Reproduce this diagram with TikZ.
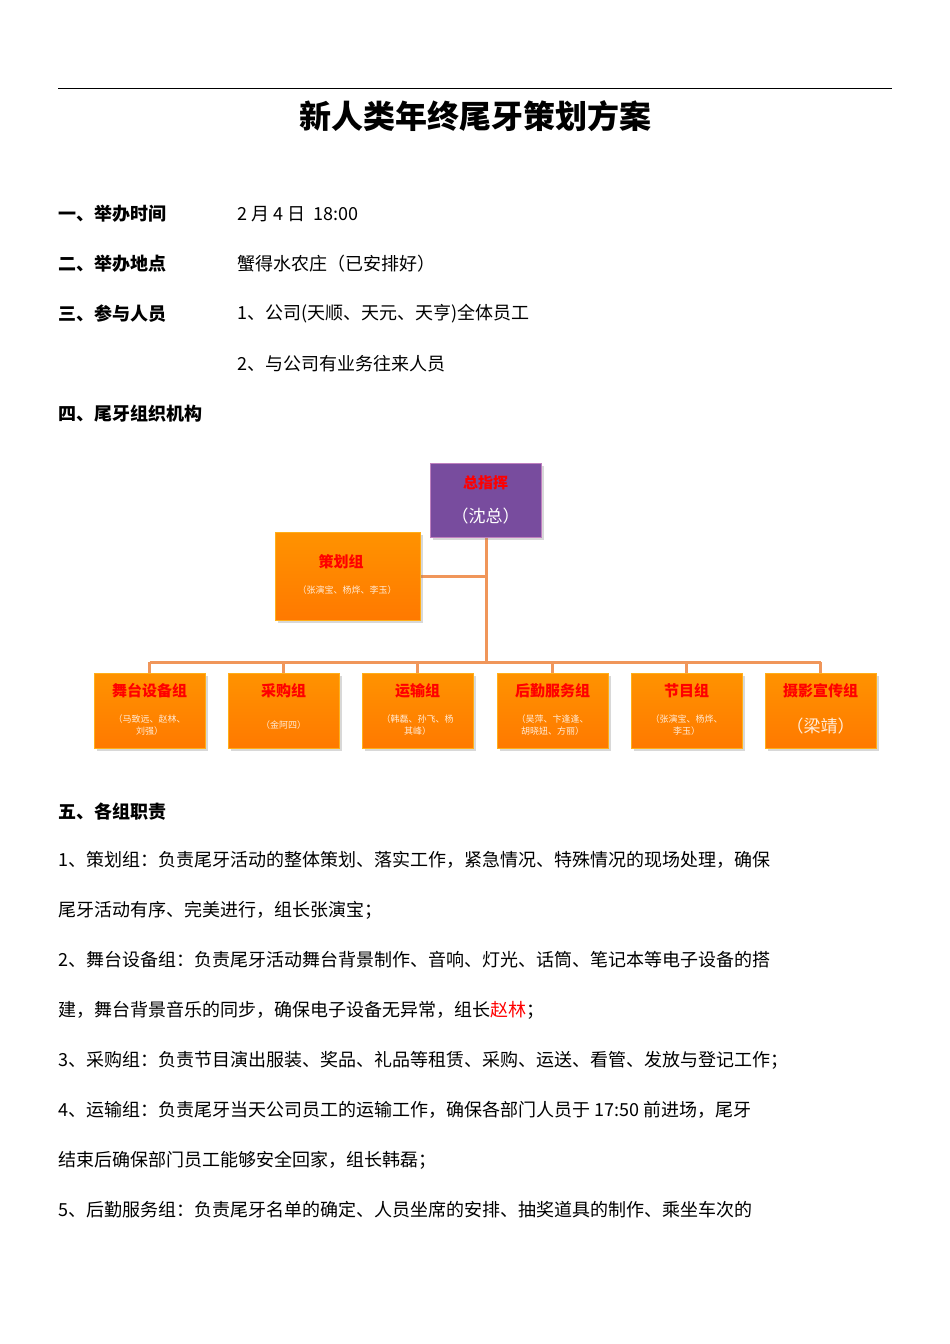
\documentclass[tikz,border=0pt]{standalone}
\usepackage{fontspec}
\usetikzlibrary{shadows}
\setmainfont{Noto Sans CJK SC}
\begin{document}
\begin{tikzpicture}[x=1pt,y=-1pt,
  ob/.style={draw=orange!70!yellow!90!white,line width=1pt,top color=orange!85!yellow,bottom color=orange!95!red,minimum width=111pt,minimum height=75pt,align=center,inner sep=1pt,drop shadow={opacity=0.3}},
  pb/.style={draw=violet!50,line width=1pt,fill={rgb,255:red,120;green,76;blue,158},minimum width=111pt,minimum height=74pt,align=center,inner sep=1pt,drop shadow={opacity=0.3}},
  ln/.style={draw={rgb,255:red,240;green,150;blue,90},line width=3pt},
  tt/.style={font=\fontsize{15pt}{17pt}\selectfont\bfseries,text=red},
  st/.style={font=\fontsize{9pt}{12pt}\selectfont,text=white!85!orange,align=center},
  body/.style={anchor=west,font=\fontsize{18pt}{20pt}\selectfont,inner sep=0pt},
  hd/.style={anchor=west,font=\fontsize{18pt}{20pt}\selectfont\bfseries,inner sep=0pt}]
\useasboundingbox (0,0) rectangle (950,1344);
\fill[white] (0,0) rectangle (950,1344);
\coordinate (r1) at (58,88); \coordinate (r2) at (892,88);
\draw[line width=0.8pt] (r1) -- (r2);
\node[font=\fontsize{32pt}{36pt}\selectfont\bfseries] (title) at (475,116) {新人类年终尾牙策划方案};
\node[hd] (h1) at (58,214) {一、举办时间};
\node[body] (t1) at (237,214) {2 月 4 日\ \ 18:00};
\node[hd] (h2) at (58,264) {二、举办地点};
\node[body] (t2) at (237,264) {蟹得水农庄（已安排好）};
\node[hd] (h3) at (58,314) {三、参与人员};
\node[body] (t3) at (237,314) {1、公司(天顺、天元、天亨)全体员工};
\node[body] (t4) at (237,364) {2、与公司有业务往来人员};
\node[hd] (h4) at (58,414) {四、尾牙组织机构};
% chart
\coordinate (j1) at (486,576);
\coordinate (j2) at (486,662);
\draw[ln] (486,537) -- (j2);
\draw[ln] (420,576) -- (j1);
\node[pb] (top) at (485.5,500) {};
\node[tt] (topt) at (485.5,483) {总指挥};
\node[font=\fontsize{17pt}{19pt}\selectfont,text=white] (tops) at (485.5,516) {（沈总）};
\node[ob,minimum width=145pt,minimum height=88pt] (cehua) at (347.5,576) {};
\node[tt] (cht) at (341,562) {策划组};
\node[st] (chs) at (347,590) {（张演宝、杨烨、李玉）};
\foreach \n/\x/\t/\s in {b1/149.5/舞台设备组/（马致远、赵林、\\刘强）,b2/283.5/采购组/（金阿四）,b3/417.5/运输组/（韩磊、孙飞、杨\\其峰）,b4/552.5/后勤服务组/（吴萍、卞逢逢、\\胡晓妞、方丽）,b5/686.5/节目组/（张演宝、杨烨、\\李玉）,b6/820.5/摄影宣传组/{}}{
  \coordinate (\n c) at (\x,662);
  \draw[ln] (\n c) -- (\x,673);
  \node[ob] (\n) at (\x,710.5) {};
  \node[tt] (\n t) at (\x,691) {\t};
  \node[st] (\n s) at (\x,725) {\s};
}
\node[font=\fontsize{17pt}{19pt}\selectfont,text=white!85!orange] (b6x) at (820.5,726) {（梁靖）};
\draw[ln] (b1c) -- (b6c);
% duties
\node[hd] (h5) at (58,812) {五、各组职责};
\node[body] (l1) at (58,860) {1、策划组：负责尾牙活动的整体策划、落实工作，紧急情况、特殊情况的现场处理，确保};
\node[body] (l2) at (58,910) {尾牙活动有序、完美进行，组长张演宝；};
\node[body] (l3) at (58,960) {2、舞台设备组：负责尾牙活动舞台背景制作、音响、灯光、话筒、笔记本等电子设备的搭};
\node[body] (l4) at (58,1010) {建，舞台背景音乐的同步，确保电子设备无异常，组长\textcolor{red}{赵林}；};
\node[body] (l5) at (58,1060) {3、采购组：负责节目演出服装、奖品、礼品等租赁、采购、运送、看管、发放与登记工作；};
\node[body] (l6) at (58,1110) {4、运输组：负责尾牙当天公司员工的运输工作，确保各部门人员于 17:50 前进场，尾牙};
\node[body] (l7) at (58,1160) {结束后确保部门员工能够安全回家，组长韩磊；};
\node[body] (l8) at (58,1210) {5、后勤服务组：负责尾牙名单的确定、人员坐席的安排、抽奖道具的制作、乘坐车次的};
\end{tikzpicture}
\end{document}
